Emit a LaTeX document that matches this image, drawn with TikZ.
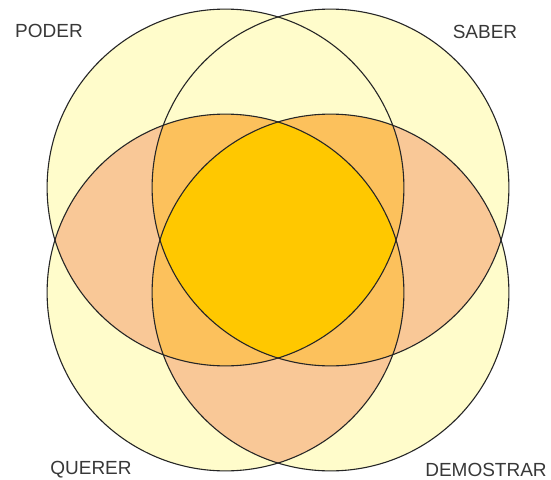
\documentclass[tikz,border=0pt]{standalone}
\usepackage{fontspec}
\setmainfont{Liberation Sans}
\definecolor{pale}{HTML}{FFFCCB}
\definecolor{peach}{HTML}{F9C897}
\definecolor{amber}{HTML}{FCC15C}
\definecolor{gold}{HTML}{FFC800}
\begin{document}
\begin{tikzpicture}[x=1pt,y=-1pt,
 ring/.style={draw=black!85,line width=1.1pt},
 tag/.style={text=black!78,font=\fontsize{19}{20}\selectfont,inner sep=0pt}]
 \useasboundingbox (0,0) rectangle (551,479);
 \def\rad{178.4}
 \coordinate (tl) at (225.5,187.5);
 \coordinate (tr) at (330.5,187.5);
 \coordinate (bl) at (225.5,292.5);
 \coordinate (br) at (330.5,292.5);
 % one set
 \foreach \c in {tl,tr,bl,br}
  \fill[pale] (\c) circle[radius=\rad];
 % two sets
 \foreach \p/\q in {tl/bl,tr/br,bl/br}{
  \begin{scope}
   \clip (\p) circle[radius=\rad];
   \fill[peach] (\q) circle[radius=\rad];
  \end{scope}}
 % three sets
 \foreach \p/\q/\s in {tl/tr/bl,tl/tr/br,tl/bl/br,tr/bl/br}{
  \begin{scope}
   \clip (\p) circle[radius=\rad];
   \clip (\q) circle[radius=\rad];
   \fill[amber] (\s) circle[radius=\rad];
  \end{scope}}
 % four sets
 \begin{scope}
  \clip (tl) circle[radius=\rad];
  \clip (tr) circle[radius=\rad];
  \clip (bl) circle[radius=\rad];
  \fill[gold] (br) circle[radius=\rad];
 \end{scope}
 \foreach \c in {tl,tr,bl,br}
  \draw[ring] (\c) circle[radius=\rad];
 \node[tag] (poder) at (49,31) {PODER};
 \node[tag] (saber) at (485,32) {SABER};
 \node[tag] (querer) at (91,470) {QUERER};
 \node[tag] (demostrar) at (486,470) {DEMOSTRAR};
\end{tikzpicture}
\end{document}
